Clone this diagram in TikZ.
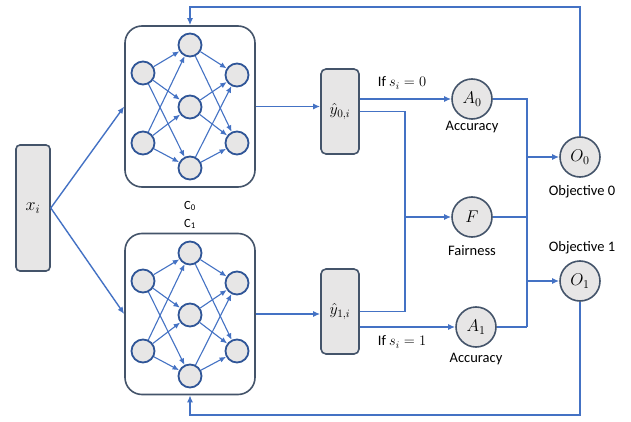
\RequirePackage{fix-cm}
\documentclass[tikz,border=0pt]{standalone}
\usepackage[no-math]{fontspec}
\setmainfont{Carlito}
\usetikzlibrary{arrows.meta}
\definecolor{linkblue}{HTML}{4472C4}
\definecolor{slate}{HTML}{44546A}
\definecolor{cellfill}{HTML}{E7E6E6}
\definecolor{neuronedge}{HTML}{2F5597}
\begin{document}
\begin{tikzpicture}[x=1pt,y=-1pt,
  wire/.style={draw=linkblue, line width=1.4pt},
  flow/.style={wire, -{Latex[length=7pt,width=6pt]}},
  synapse/.style={draw=linkblue, line width=1.1pt, -{Latex[length=6.5pt,width=5.5pt]}},
  inbox/.style={draw=slate, fill=cellfill, line width=1.6pt, rounded corners=4pt,
    minimum width=34pt, minimum height=126pt, inner sep=0pt, font=\fontsize{18}{20}\selectfont},
  predbox/.style={draw=slate, fill=cellfill, line width=1.6pt, rounded corners=5pt,
    minimum width=38pt, minimum height=85pt, inner sep=0pt, font=\fontsize{16}{18}\selectfont},
  netbox/.style={draw=slate, fill=white, line width=1.6pt, rounded corners=17pt,
    minimum width=130pt, minimum height=161pt, inner sep=0pt},
  neuron/.style={circle, draw=neuronedge, fill=cellfill, line width=1.8pt,
    minimum size=23pt, inner sep=0pt},
  metric/.style={circle, draw=slate, fill=cellfill, line width=1.6pt,
    minimum size=40pt, inner sep=0pt, font=\fontsize{17}{19}\selectfont},
  caption/.style={inner sep=0pt, font=\fontsize{14.5}{17}\selectfont},
  netname/.style={inner sep=0pt, font=\fontsize{12.5}{14}\selectfont}
]
\useasboundingbox (0,0) rectangle (631,422);

% input
\node[inbox] (xi) at (33,208) {$x_i$};

% the two networks
\node[netbox] (nn0) at (190,106.5) {};
\node[netbox] (nn1) at (190,314) {};

\foreach \n/\dy in {0/0,1/208}{
  \node[neuron] (in\n a) at (143,73+\dy) {};
  \node[neuron] (in\n b) at (143,143+\dy) {};
  \node[neuron] (hd\n a) at (190,45+\dy) {};
  \node[neuron] (hd\n b) at (190,107+\dy) {};
  \node[neuron] (hd\n c) at (190,168+\dy) {};
  \node[neuron] (ot\n a) at (237,75+\dy) {};
  \node[neuron] (ot\n b) at (237,143+\dy) {};
  \foreach \i in {a,b}{
    \foreach \h in {a,b,c}{
      \draw[synapse] (in\n\i) -- (hd\n\h);
      \draw[synapse] (hd\n\h) -- (ot\n\i);
    }
  }
}

\node[netname] (c0) at (190,206) {C\textsubscript{0}};
\node[netname] (c1) at (190,224) {C\textsubscript{1}};

% predictions
\node[predbox] (y0) at (340,111.5) {$\hat{y}_{0,i}$};
\node[predbox] (y1) at (340,311.5) {$\hat{y}_{1,i}$};

% metrics and objectives
\node[metric] (A0) at (472,99) {$A_0$};
\node[metric] (F) at (472,217) {$F$};
\node[metric] (A1) at (476,327) {$A_1$};
\node[metric] (O0) at (580,157) {$O_0$};
\node[metric] (O1) at (580,281) {$O_1$};

\node[caption] (acc0) at (472,127) {Accuracy};
\node[caption] (fair) at (472,251) {Fairness};
\node[caption] (acc1) at (476,359) {Accuracy};
\node[caption] (obj0) at (582,192) {Objective 0};
\node[caption] (obj1) at (582,248) {Objective 1};
\node[caption] (cond0) at (402,83) {If $s_i = 0$};
\node[caption] (cond1) at (402,342) {If $s_i = 1$};

% junction points
\coordinate (jl) at (405,217);
\coordinate (jr) at (527,327);
\coordinate (fb0) at (190,7);
\coordinate (fb1) at (190,415);

% input to networks
\draw[flow] (xi.east) -- (nn0.west);
\draw[flow] (xi.east) -- (nn1.west);

% networks to predictions
\draw[flow] (nn0.east) -- (nn0.east -| y0.west);
\draw[flow] (nn1.east) -- (nn1.east -| y1.west);

% predictions to metrics
\draw[flow] (y0.east |- A0) -- (A0.west);
\draw[flow] (y1.east |- A1) -- (A1.west);
\draw[wire] (y0.east) -| (jl);
\draw[wire] (y1.east) -| (jl);
\draw[flow] (jl) -- (F.west);

% metrics to objectives
\draw[wire] (A0.east) -| (jr);
\draw[wire] (A1.east) -- (jr);
\draw[wire] (F.east) -- (F.east -| jr);
\draw[flow] (O0.west -| jr) -- (O0.west);
\draw[flow] (O1.west -| jr) -- (O1.west);

% feedback to the networks
\draw[flow] (O0.north) |- (fb0) -- (nn0.north);
\draw[flow] (O1.south) |- (fb1) -- (nn1.south);
\end{tikzpicture}
\end{document}
